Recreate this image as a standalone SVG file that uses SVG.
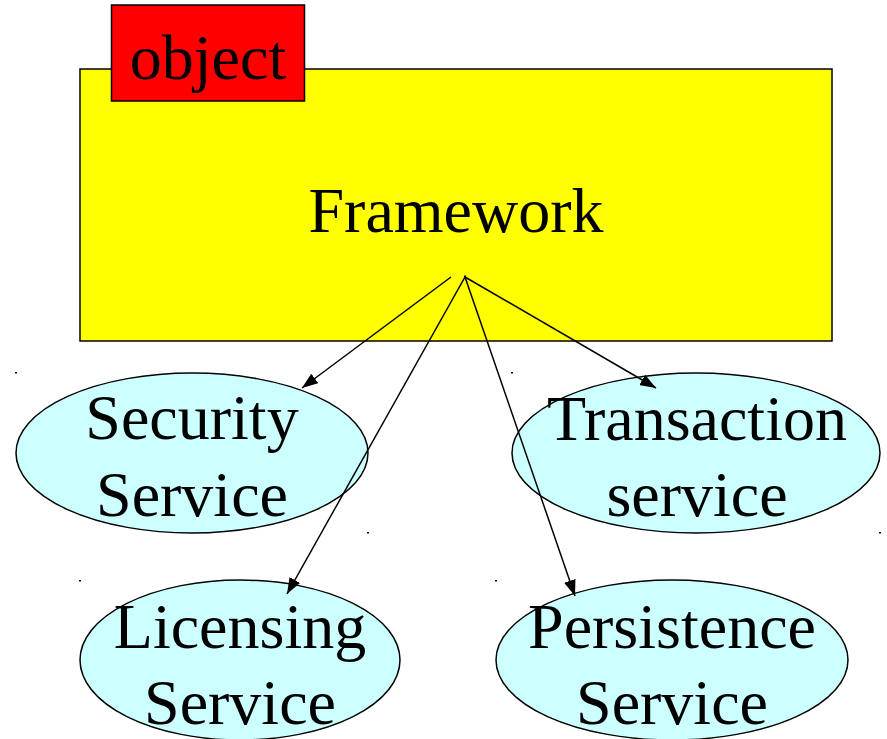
<svg xmlns="http://www.w3.org/2000/svg" width="887" height="739" viewBox="0 0 887 739">
  <style>
    .lbl { font-family: "Liberation Serif", "Times New Roman", serif; font-size: 64px; fill: #000; text-anchor: middle; }
    .svc { fill: #CCFFFF; stroke: #000; stroke-width: 1.5; }
    .edge { stroke: #000; stroke-width: 1.5; fill: none; marker-end: url(#head); }
    .tick { fill: #000; }
  </style>
  <defs>
    <marker id="head" markerUnits="userSpaceOnUse" markerWidth="16" markerHeight="12" refX="16" refY="6" orient="auto">
      <path d="M0,0 L16,6 L0,12 Z" fill="#000"/>
    </marker>
  </defs>
  <rect width="887" height="739" fill="#fff"/>

  <!-- package body with its tab -->
  <g id="framework">
    <rect x="80" y="69" width="752" height="272" fill="#FFFF00" stroke="#000" stroke-width="1.5"/>
    <text class="lbl" x="456" y="232">Framework</text>
  </g>
  <g id="object">
    <rect x="111.5" y="5" width="193" height="96" fill="#FF0000" stroke="#000" stroke-width="1.5"/>
    <text class="lbl" x="208" y="79">object</text>
  </g>

  <!-- service nodes -->
  <g id="security">
    <ellipse class="svc" cx="192" cy="453" rx="176" ry="80"/>
    <text class="lbl" x="192" y="439">Security</text>
    <text class="lbl" x="192" y="516">Service</text>
    <rect class="tick" x="15" y="372" width="2" height="1.5"/>
    <rect class="tick" x="367" y="532" width="2" height="1.5"/>
  </g>
  <g id="transaction">
    <ellipse class="svc" cx="696" cy="453" rx="184" ry="80"/>
    <text class="lbl" x="697" y="440">Transaction</text>
    <text class="lbl" x="697" y="516">service</text>
    <rect class="tick" x="511" y="372" width="2" height="1.5"/>
    <rect class="tick" x="879" y="532" width="2" height="1.5"/>
  </g>
  <g id="licensing">
    <ellipse class="svc" cx="240" cy="660" rx="160" ry="80"/>
    <text class="lbl" x="240" y="648">Licensing</text>
    <text class="lbl" x="240" y="724">Service</text>
    <rect class="tick" x="79" y="580" width="2" height="1.5"/>
  </g>
  <g id="persistence">
    <ellipse class="svc" cx="672" cy="660" rx="176" ry="80"/>
    <text class="lbl" x="672" y="648">Persistence</text>
    <text class="lbl" x="672" y="724">Service</text>
    <rect class="tick" x="495" y="580" width="2" height="1.5"/>
  </g>

  <!-- connectors -->
  <g id="edges">
    <line class="edge" x1="451" y1="277" x2="302" y2="388"/>
    <line class="edge" x1="465" y1="277" x2="287" y2="594"/>
    <line class="edge" x1="465" y1="277" x2="575" y2="596"/>
    <line class="edge" x1="465" y1="277" x2="656" y2="388"/>
    <rect class="tick" x="464" y="275.5" width="2" height="1.5"/>
  </g>
</svg>
